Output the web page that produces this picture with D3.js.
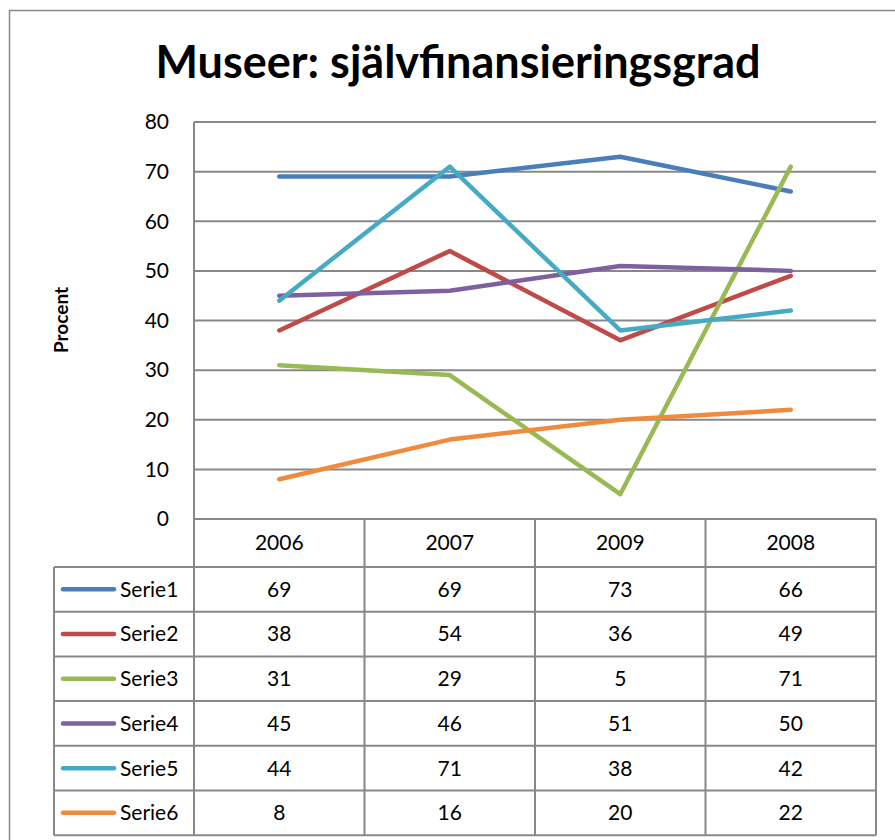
<!DOCTYPE html>
<html>
<head>
<meta charset="utf-8">
<script src="https://cdn.jsdelivr.net/npm/d3@7"></script>
<style>
  body { margin: 0; background: #fff; }
  svg { display: block; font-family: Lato, "Open Sans", sans-serif; }
</style>
</head>
<body>
<svg width="895" height="840"></svg>
<script>
// data
const years = ["2006", "2007", "2009", "2008"];
const seriesNames = ["Serie1", "Serie2", "Serie3", "Serie4", "Serie5", "Serie6"];
const serie1 = [69, 69, 73, 66];
const serie2 = [38, 54, 36, 49];
const serie3 = [31, 29, 5, 71];
const serie4 = [45, 46, 51, 50];
const serie5 = [44, 71, 38, 42];
const serie6 = [8, 16, 20, 22];
const yTicks = [0, 10, 20, 30, 40, 50, 60, 70, 80];
const colors = ["#4a7ebb", "#be4b48", "#98b954", "#7d60a0", "#46aac5", "#f08a3c"];

const allSeries = [serie1, serie2, serie3, serie4, serie5, serie6];

const svg = d3.select("svg");
const grid = "#888888";
const fs = 21;

// outer frame
svg.append("rect")
  .attr("x", 9.5).attr("y", 10.5)
  .attr("width", 900).attr("height", 900)
  .attr("fill", "none").attr("stroke", grid).attr("stroke-width", 1.5);

svg.append("text")
  .attr("x", 458).attr("y", 78)
  .attr("text-anchor", "middle")
  .attr("font-size", 45).attr("font-weight", "bold")
  .text("Museer: självfinansieringsgrad");

const plotL = 194, plotR = 876, plotT = 122, plotB = 519;

const x = d3.scaleBand().domain(years).range([plotL, plotR]);
const y = d3.scaleLinear().domain([0, 80]).range([plotB, plotT]);

// gridlines
svg.append("g").selectAll("line").data(yTicks).join("line")
  .attr("x1", plotL).attr("x2", plotR)
  .attr("y1", d => y(d)).attr("y2", d => y(d))
  .attr("stroke", grid).attr("stroke-width", 2);

svg.append("line")
  .attr("x1", plotL).attr("x2", plotL).attr("y1", plotT).attr("y2", plotB)
  .attr("stroke", grid).attr("stroke-width", 2);

// y labels
svg.append("g").selectAll("text").data(yTicks).join("text")
  .attr("x", 169).attr("y", d => y(d))
  .attr("dy", "0.35em")
  .attr("text-anchor", "end")
  .attr("font-size", fs)
  .text(d => d);

svg.append("text")
  .attr("transform", "translate(68,320) rotate(-90)")
  .attr("text-anchor", "middle")
  .attr("font-size", 19).attr("font-weight", "bold")
  .text("Procent");

// lines
const line = d3.line()
  .x((d, i) => x(years[i]) + x.bandwidth() / 2)
  .y(d => y(d));

svg.append("g").selectAll("path").data(allSeries).join("path")
  .attr("d", line)
  .attr("fill", "none")
  .attr("stroke", (d, i) => colors[i])
  .attr("stroke-width", 4.5)
  .attr("stroke-linecap", "round")
  .attr("stroke-linejoin", "round");

// data table
const headerBottom = 567;
const rowH = 44.7;
const tableLeft = 54;
const tableBottom = headerBottom + rowH * seriesNames.length;
const tg = svg.append("g");

// column separators
x.domain().forEach(yr => {
  tg.append("line")
    .attr("x1", x(yr) + x.bandwidth()).attr("x2", x(yr) + x.bandwidth())
    .attr("y1", plotB).attr("y2", tableBottom)
    .attr("stroke", grid).attr("stroke-width", 2);
});
tg.append("line")
  .attr("x1", plotL).attr("x2", plotL).attr("y1", plotB).attr("y2", tableBottom)
  .attr("stroke", grid).attr("stroke-width", 2);
tg.append("line")
  .attr("x1", tableLeft).attr("x2", tableLeft).attr("y1", headerBottom).attr("y2", tableBottom)
  .attr("stroke", grid).attr("stroke-width", 2);

// row lines
d3.range(seriesNames.length + 1).forEach(i => {
  tg.append("line")
    .attr("x1", tableLeft).attr("x2", plotR)
    .attr("y1", headerBottom + i * rowH).attr("y2", headerBottom + i * rowH)
    .attr("stroke", grid).attr("stroke-width", 2);
});

tg.selectAll("text.yr").data(years).join("text")
  .attr("class", "yr")
  .attr("x", d => x(d) + x.bandwidth() / 2)
  .attr("y", (plotB + headerBottom) / 2)
  .attr("dy", "0.35em")
  .attr("text-anchor", "middle")
  .attr("font-size", fs)
  .text(d => d);

seriesNames.forEach((name, i) => {
  const cy = headerBottom + rowH * i + rowH / 2;
  tg.append("line")
    .attr("x1", 63).attr("x2", 114).attr("y1", cy).attr("y2", cy)
    .attr("stroke", colors[i]).attr("stroke-width", 4.5)
    .attr("stroke-linecap", "round");
  tg.append("text")
    .attr("x", 120).attr("y", cy).attr("dy", "0.35em")
    .attr("font-size", fs)
    .text(name);
  allSeries[i].forEach((v, j) => {
    tg.append("text")
      .attr("x", x(years[j]) + x.bandwidth() / 2)
      .attr("y", cy).attr("dy", "0.35em")
      .attr("text-anchor", "middle")
      .attr("font-size", fs)
      .text(v);
  });
});
</script>
</body>
</html>
